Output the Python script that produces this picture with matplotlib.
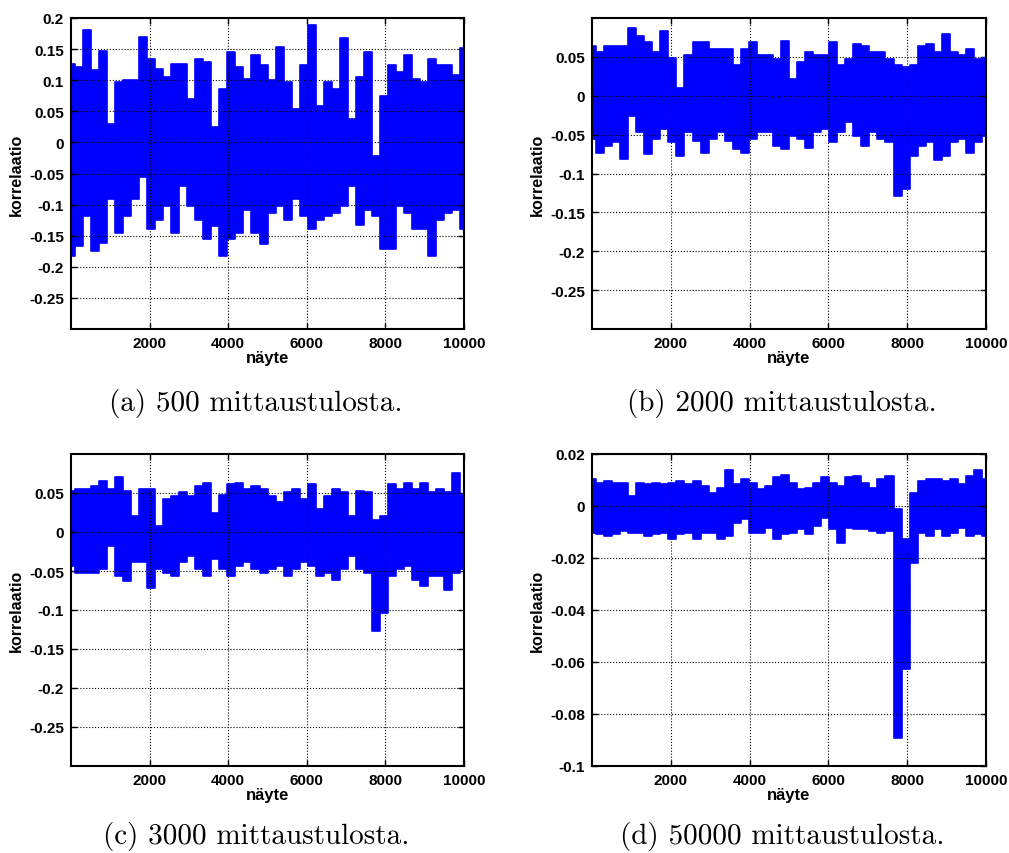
import numpy as np
import matplotlib
matplotlib.use("Agg")
import matplotlib.pyplot as plt

plt.rcParams['axes.unicode_minus'] = False

# correlation envelope per 200-sample block (upper / lower extent)
a_hi = [0.126, 0.121, 0.180, 0.116, 0.147, 0.030, 0.097, 0.100, 0.100, 0.169,
        0.134, 0.118, 0.105, 0.126, 0.126, 0.070, 0.134, 0.129, 0.024, 0.086,
        0.145, 0.121, 0.102, 0.140, 0.124, 0.100, 0.153, 0.097, 0.054, 0.124,
        0.188, 0.059, 0.097, 0.086, 0.168, 0.038, 0.105, 0.145, -0.022, 0.075,
        0.124, 0.113, 0.140, 0.102, 0.097, 0.134, 0.124, 0.124, 0.108, 0.151]
a_lo = [-0.183, -0.167, -0.118, -0.175, -0.161, -0.091, -0.145, -0.118, -0.091, -0.056,
        -0.140, -0.124, -0.102, -0.145, -0.070, -0.102, -0.124, -0.156, -0.134, -0.183,
        -0.156, -0.145, -0.108, -0.145, -0.164, -0.113, -0.102, -0.124, -0.091, -0.118,
        -0.140, -0.124, -0.118, -0.113, -0.102, -0.070, -0.132, -0.108, -0.118, -0.172,
        -0.172, -0.102, -0.113, -0.140, -0.140, -0.183, -0.124, -0.113, -0.108, -0.140]

b_hi = [0.064, 0.056, 0.064, 0.064, 0.064, 0.087, 0.077, 0.069, 0.056, 0.083,
        0.049, 0.010, 0.052, 0.069, 0.069, 0.060, 0.060, 0.060, 0.039, 0.060,
        0.069, 0.052, 0.052, 0.047, 0.071, 0.021, 0.043, 0.056, 0.052, 0.052,
        0.069, 0.039, 0.047, 0.067, 0.064, 0.056, 0.056, 0.047, 0.039, 0.037,
        0.039, 0.064, 0.067, 0.056, 0.080, 0.056, 0.052, 0.060, 0.047, 0.049]
b_lo = [-0.056, -0.073, -0.064, -0.060, -0.081, -0.026, -0.047, -0.075, -0.056, -0.043,
        -0.060, -0.077, -0.047, -0.058, -0.074, -0.056, -0.047, -0.058, -0.069, -0.073,
        -0.056, -0.047, -0.047, -0.064, -0.069, -0.052, -0.056, -0.067, -0.047, -0.043,
        -0.060, -0.047, -0.034, -0.052, -0.064, -0.047, -0.056, -0.060, -0.129, -0.120,
        -0.077, -0.064, -0.060, -0.082, -0.077, -0.060, -0.056, -0.073, -0.060, -0.052]

c_hi = [0.053, 0.055, 0.055, 0.059, 0.066, 0.055, 0.070, 0.053, 0.021, 0.055,
        0.055, 0.008, 0.042, 0.046, 0.051, 0.046, 0.059, 0.063, 0.025, 0.048,
        0.061, 0.063, 0.055, 0.059, 0.055, 0.046, 0.038, 0.051, 0.055, 0.042,
        0.061, 0.029, 0.046, 0.055, 0.051, 0.021, 0.053, 0.051, 0.016, 0.021,
        0.061, 0.055, 0.063, 0.055, 0.063, 0.051, 0.055, 0.051, 0.076, 0.048]
c_lo = [-0.044, -0.052, -0.052, -0.052, -0.048, -0.018, -0.057, -0.063, -0.039, -0.039,
        -0.072, -0.048, -0.052, -0.057, -0.039, -0.031, -0.048, -0.057, -0.035, -0.048,
        -0.057, -0.044, -0.039, -0.048, -0.052, -0.048, -0.044, -0.057, -0.048, -0.039,
        -0.044, -0.057, -0.052, -0.061, -0.048, -0.031, -0.048, -0.052, -0.127, -0.104,
        -0.057, -0.048, -0.044, -0.061, -0.069, -0.057, -0.057, -0.074, -0.052, -0.048]

d_hi = [0.0103, 0.0090, 0.0096, 0.0090, 0.0090, 0.0038, 0.0090, 0.0083, 0.0090, 0.0083,
        0.0090, 0.0096, 0.0083, 0.0096, 0.0077, 0.0051, 0.0071, 0.0140, 0.0083, 0.0103,
        0.0090, 0.0064, 0.0077, 0.0110, 0.0120, 0.0090, 0.0064, 0.0071, 0.0090, 0.0110,
        0.0090, 0.0077, 0.0110, 0.0115, 0.0090, 0.0071, 0.0103, 0.0115, -0.0013, -0.0128,
        0.0051, 0.0096, 0.0103, 0.0103, 0.0096, 0.0103, 0.0083, 0.0115, 0.0140, 0.0103]
d_lo = [-0.0103, -0.0109, -0.0115, -0.0109, -0.0096, -0.0103, -0.0103, -0.0115, -0.0109, -0.0103,
        -0.0128, -0.0109, -0.0103, -0.0128, -0.0103, -0.0103, -0.0128, -0.0115, -0.0064, -0.0051,
        -0.0103, -0.0103, -0.0083, -0.0128, -0.0109, -0.0103, -0.0090, -0.0109, -0.0077, -0.0045,
        -0.0090, -0.0141, -0.0083, -0.0090, -0.0090, -0.0096, -0.0103, -0.0096, -0.0891, -0.0628,
        -0.0218, -0.0103, -0.0115, -0.0090, -0.0115, -0.0103, -0.0083, -0.0115, -0.0109, -0.0115]

captions = ["(a) 500 mittaustulosta.", "(b) 2000 mittaustulosta.",
            "(c) 3000 mittaustulosta.", "(d) 50000 mittaustulosta."]
xticks = [2000, 4000, 6000, 8000, 10000]
yt_std = [-0.25, -0.2, -0.15, -0.1, -0.05, 0, 0.05]
yt_a = yt_std + [0.1, 0.15, 0.2]
yt_d = [-0.1, -0.08, -0.06, -0.04, -0.02, 0, 0.02]

n = np.linspace(1, 10000, 50)

W, H = 1009, 854
fig = plt.figure(figsize=(W / 100, H / 100), dpi=100)

def box(l, t, r, b):
    return [l / W, 1 - b / H, (r - l) / W, (b - t) / H]

panels = [
    (box(71, 19, 464, 330), a_hi, a_lo, (-0.3, 0.2), yt_a, 256, 404),
    (box(592, 19, 986, 330), b_hi, b_lo, (-0.3, 0.1), yt_std, 782, 404),
    (box(71, 455, 464, 767), c_hi, c_lo, (-0.3, 0.1), yt_std, 256, 837),
    (box(592, 455, 986, 767), d_hi, d_lo, (-0.1, 0.02), yt_d, 782, 837),
]

for (pos, hi, lo, ylim, yt, cx, cy), cap in zip(panels, captions):
    ax = fig.add_axes(pos)
    ax.fill_between(n, lo, hi, step='mid', color='#0000ff', lw=0)
    ax.plot(n, hi, color='#0000ff', lw=1.2, drawstyle='steps-mid')
    ax.plot(n, lo, color='#0000ff', lw=1.2, drawstyle='steps-mid')
    ax.set_xlim(0, 10000)
    ax.set_ylim(*ylim)
    ax.set_xticks(xticks)
    ax.set_yticks(yt)
    ax.set_yticklabels(['%g' % v for v in yt])
    ax.grid(True, color='black', linestyle=':', lw=0.8)
    ax.tick_params(direction='in', top=True, right=True, length=4, width=1,
                   labelsize=11, pad=5)
    for lab in ax.get_xticklabels() + ax.get_yticklabels():
        lab.set_fontweight('bold')
        lab.set_family('Liberation Sans')
    for s in ax.spines.values():
        s.set_linewidth(1.5)
    ax.set_xlabel('näyte', fontsize=12, fontweight='bold', family='Liberation Sans', labelpad=0)
    ax.set_ylabel('korrelaatio', fontsize=11.5, fontweight='bold', family='Liberation Sans')
    fig.text(cx / W, 1 - cy / H, cap, ha='center', va='center', fontsize=21, family='cmr10')

fig.savefig('out.png', dpi=100)
